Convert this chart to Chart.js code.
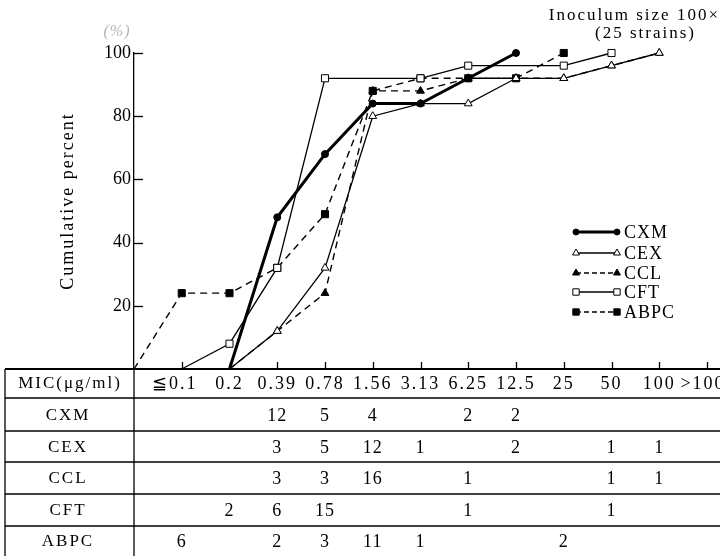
<!DOCTYPE html>
<html>
<head>
<meta charset="utf-8">
<script src="https://cdn.jsdelivr.net/npm/chart.js@4"></script>
<style>
  html, body { margin: 0; padding: 0; background: #fff; }
  #wrap { width: 720px; height: 556px; }
</style>
</head>
<body>
<div id="wrap"><canvas id="micChart" width="720" height="556"></canvas></div>
<script>
// x positions: '' is the origin at the y axis, then the MIC steps
const categories = ['', '≦0.1', '0.2', '0.39', '0.78', '1.56', '3.13', '6.25', '12.5', '25', '50', '100', '>100'];
const micLabels = categories.slice(1);

// cumulative percent
const cxm  = [null, null, 0, 48, 68, 84, 84, 92, 100, null, null, null, null];
const cex  = [null, null, 0, 12, 32, 80, 84, 84, 92, 92, 96, 100, null];
const ccl  = [null, null, 0, 12, 24, 88, 88, 92, 92, 92, 96, 100, null];
const cft  = [null, 0, 8, 32, 92, null, 92, 96, null, 96, 100, null, null];
const abpc = [0, 24, 24, 32, 49, 88, 92, 92, 92, 100, null, null, null];

// strain counts per MIC column (table)
const cxmCounts  = [null, null, 12, 5, 4, null, 2, 2, null, null, null, null];
const cexCounts  = [null, null, 3, 5, 12, 1, null, 2, null, 1, 1, null];
const cclCounts  = [null, null, 3, 3, 16, null, 1, null, null, 1, 1, null];
const cftCounts  = [null, 2, 6, 15, null, null, 1, null, null, 1, null, null];
const abpcCounts = [6, null, 2, 3, 11, 1, null, null, 2, null, null, null];

const drugNames = ['CXM', 'CEX', 'CCL', 'CFT', 'ABPC'];
const yTicks = [20, 40, 60, 80, 100];

const SERIF = '"Liberation Serif", "DejaVu Serif", serif';

function hideZero(ctx) {
  return ctx.raw === 0 ? 0 : ctx.dataset.baseRadius;
}

const datasets = [
  { label: 'CXM', data: cxm, borderColor: '#000', backgroundColor: '#000', borderWidth: 3,
    pointStyle: 'circle', baseRadius: 3.5, pointBorderWidth: 1 },
  { label: 'CEX', data: cex, borderColor: '#000', backgroundColor: '#fff', borderWidth: 1.3,
    pointStyle: 'triangle', baseRadius: 4.5, pointBorderWidth: 1 },
  { label: 'CCL', data: ccl, borderColor: '#000', backgroundColor: '#000', borderWidth: 1.4,
    borderDash: [7, 5], pointStyle: 'triangle', baseRadius: 4.5, pointBorderWidth: 1 },
  { label: 'CFT', data: cft, borderColor: '#000', backgroundColor: '#fff', borderWidth: 1.3,
    pointStyle: 'rect', baseRadius: 5, pointBorderWidth: 1, spanGaps: true },
  { label: 'ABPC', data: abpc, borderColor: '#000', backgroundColor: '#000', borderWidth: 1.4,
    borderDash: [7, 5], pointStyle: 'rect', baseRadius: 5, pointBorderWidth: 1 }
].map(d => Object.assign({
  pointRadius: hideZero, pointHoverRadius: hideZero, tension: 0, clip: false, fill: false,
  pointBackgroundColor: d.backgroundColor, pointBorderColor: '#000'
}, d));

const countRows = [cxmCounts, cexCounts, cclCounts, cftCounts, abpcCounts];

const decorations = {
  id: 'decorations',
  afterDraw(chart) {
    const ctx = chart.ctx;
    const x = chart.scales.x;
    const y = chart.scales.y;
    const area = chart.chartArea;
    ctx.save();
    ctx.strokeStyle = '#000';
    ctx.fillStyle = '#000';

    // inner tick marks
    ctx.lineWidth = 1.3;
    yTicks.forEach(v => {
      const py = Math.round(y.getPixelForValue(v)) + 0.5;
      ctx.beginPath();
      ctx.moveTo(area.left, py);
      ctx.lineTo(area.left + 9, py);
      ctx.stroke();
    });
    for (let i = 1; i < categories.length; i++) {
      const px = Math.round(x.getPixelForValue(i)) + 0.5;
      ctx.beginPath();
      ctx.moveTo(px, area.bottom);
      ctx.lineTo(px, area.bottom - 7);
      ctx.stroke();
    }

    // table grid
    const rowLines = [area.bottom, 398, 431, 462, 494, 526];
    rowLines.forEach((ly, k) => {
      ctx.lineWidth = k === 0 ? 2 : 1.3;
      ctx.beginPath();
      ctx.moveTo(5, ly);
      ctx.lineTo(720, ly);
      ctx.stroke();
    });
    ctx.lineWidth = 1.3;
    [5, area.left].forEach(lx => {
      ctx.beginPath();
      ctx.moveTo(lx, area.bottom);
      ctx.lineTo(lx, 556);
      ctx.stroke();
    });

    // table text
    const rowY = [384, 416, 448, 479, 511, 542];
    ctx.textAlign = 'center';
    ctx.textBaseline = 'middle';
    ctx.font = '17px ' + SERIF;
    ctx.letterSpacing = '2px';
    ctx.fillText('MIC(μg/ml)', 70, rowY[0]);
    ctx.font = '18px ' + SERIF;
    ctx.letterSpacing = '2px';
    micLabels.forEach((lab, i) => {
      let px = x.getPixelForValue(i + 1);
      if (i === 0) px -= 7;
      if (i === micLabels.length - 1) px -= 4;
      ctx.fillText(lab, px, rowY[0]);
    });
    drugNames.forEach((name, r) => {
      ctx.font = '17px ' + SERIF;
      ctx.letterSpacing = '2px';
      ctx.fillText(name, 68, rowY[r + 1]);
      ctx.font = '18px ' + SERIF;
      ctx.letterSpacing = '1px';
      countRows[r].forEach((c, i) => {
        if (c !== null) ctx.fillText(String(c), x.getPixelForValue(i + 1), rowY[r + 1]);
      });
    });

    // legend
    const legY = [232, 253, 273, 292, 312];
    chart.data.datasets.forEach((ds, k) => {
      const ly = legY[k];
      ctx.lineWidth = ds.borderWidth;
      ctx.setLineDash(ds.borderDash ? [5, 3] : []);
      ctx.beginPath();
      ctx.moveTo(576, ly);
      ctx.lineTo(617, ly);
      ctx.stroke();
      ctx.setLineDash([]);
      ctx.lineWidth = 1;
      ctx.fillStyle = ds.backgroundColor;
      [576, 617].forEach(px => {
        Chart.helpers.drawPoint(ctx, { pointStyle: ds.pointStyle, radius: ds.baseRadius - 0.5, rotation: 0, borderWidth: 1 }, px, ly);
      });
      ctx.fillStyle = '#000';
      ctx.textAlign = 'left';
      ctx.font = '18px ' + SERIF;
      ctx.letterSpacing = '1px';
      ctx.fillText(ds.label, 624, ly + 1);
    });

    // titles
    ctx.font = '17px ' + SERIF;
    ctx.letterSpacing = '2px';
    ctx.textAlign = 'right';
    ctx.fillText('Inoculum size 100×', 720, 16);
    ctx.fillText('(25 strains)', 696, 34);

    ctx.fillStyle = '#b5b5b5';
    ctx.font = 'italic 16px ' + SERIF;
    ctx.letterSpacing = '1px';
    ctx.textAlign = 'center';
    ctx.fillText('(%)', 117, 32);

    ctx.fillStyle = '#000';
    ctx.font = '18px ' + SERIF;
    ctx.letterSpacing = '2px';
    ctx.translate(68, 201);
    ctx.rotate(-Math.PI / 2);
    ctx.fillText('Cumulative percent', 0, 0);
    ctx.restore();
  }
};

new Chart(document.getElementById('micChart'), {
  type: 'line',
  data: { labels: categories, datasets: datasets },
  options: {
    responsive: false,
    animation: false,
    events: [],
    layout: { padding: { top: 53, right: 13, left: 0, bottom: 0 } },
    plugins: { legend: { display: false }, tooltip: { enabled: false } },
    scales: {
      x: {
        type: 'category',
        offset: false,
        grid: { display: false },
        border: { display: false },
        ticks: { display: false },
        afterFit(scale) { scale.height = 187; }
      },
      y: {
        min: 0,
        max: 100,
        ticks: {
          stepSize: 20,
          padding: 3,
          color: '#000',
          font: { family: SERIF, size: 18 },
          callback: v => (v === 0 ? '' : v)
        },
        grid: { drawOnChartArea: false, drawTicks: false },
        border: { display: true, color: '#000', width: 1.3 },
        afterFit(scale) { scale.width = 134; }
      }
    }
  },
  plugins: [decorations]
});
</script>
</body>
</html>
